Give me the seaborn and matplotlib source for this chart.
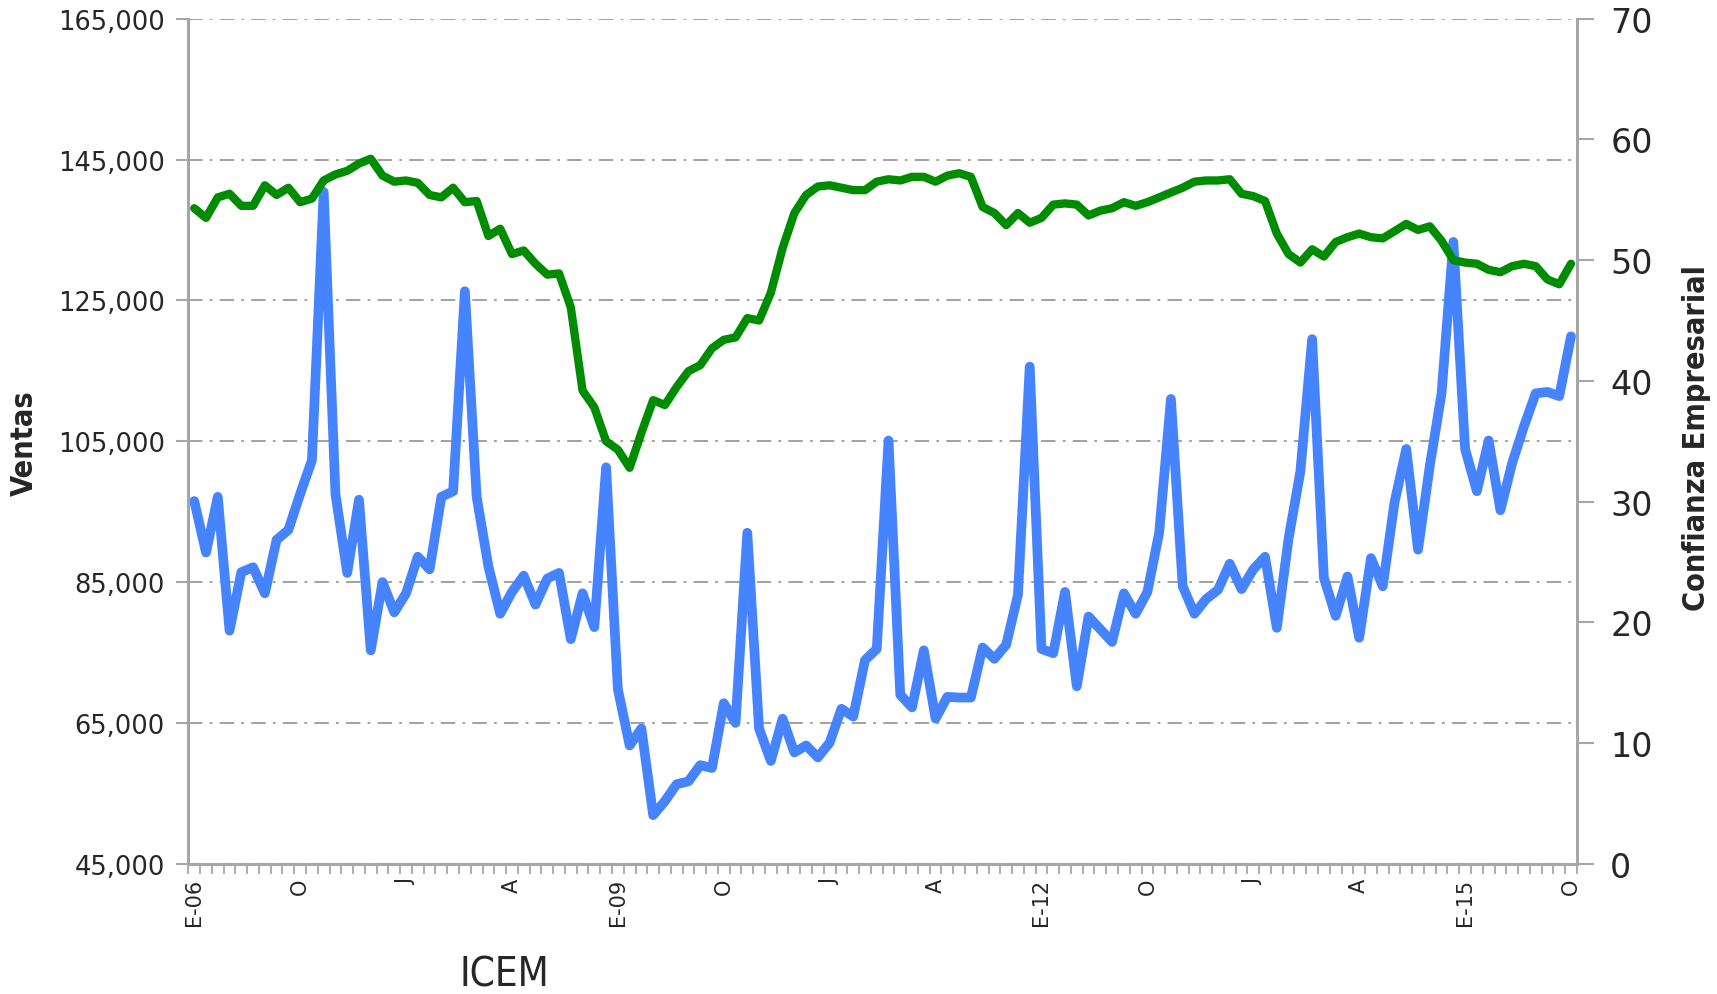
import numpy as np
import pandas as pd
import matplotlib
matplotlib.use("Agg")
import matplotlib.pyplot as plt
import seaborn as sns

# ==========================================
# DATOS (mensual, enero 2006 - octubre 2015)
# ==========================================
ventas = [
    96500, 89200, 97100, 78100, 86400, 87100, 83400, 91000, 92400, 97500,
    102300, 140400, 97500, 86300, 96700, 75300, 85000, 80700, 83400, 88600,
    86800, 97100, 97900, 126300, 97100, 87200, 80500, 83600, 85900, 81800,
    85500, 86300, 76900, 83400, 78600, 101300, 69800, 61800, 64200, 51900,
    53900, 56300, 56700, 59000, 58600, 67800, 65000, 92000, 64200, 59600,
    65600, 60800, 61800, 60100, 62200, 67000, 65900, 73900, 75500, 105100,
    69000, 67200, 75300, 65600, 68700, 68600, 68600, 75700, 74100, 76100,
    83200, 115600, 75500, 74900, 83600, 70200, 80100, 78300, 76500, 83400,
    80500, 83600, 92000, 111000, 84400, 80500, 82600, 83900, 87600, 84000,
    86800, 88600, 78500, 91200, 100700, 119500, 85600, 80200, 85800, 77100,
    88400, 84400, 96300, 103900, 89600, 101500, 111800, 133300, 103900, 97900,
    105100, 95200, 101900, 107100, 111800, 112000, 111400, 119900,
]

confianza = [
    54.3, 53.5, 55.2, 55.5, 54.5, 54.5, 56.2, 55.4, 56.0, 54.8,
    55.1, 56.6, 57.1, 57.4, 58.0, 58.4, 57.0, 56.5, 56.6, 56.4,
    55.4, 55.2, 56.0, 54.8, 54.9, 52.0, 52.6, 50.5, 50.8, 49.7,
    48.8, 48.9, 46.1, 39.2, 37.8, 35.0, 34.3, 32.8, 35.7, 38.4,
    38.0, 39.5, 40.8, 41.3, 42.7, 43.4, 43.6, 45.2, 45.0, 47.3,
    51.0, 53.9, 55.4, 56.1, 56.2, 56.0, 55.8, 55.8, 56.5, 56.7,
    56.6, 56.9, 56.9, 56.5, 57.0, 57.2, 56.9, 54.4, 53.9, 52.9,
    53.9, 53.1, 53.5, 54.6, 54.7, 54.6, 53.7, 54.1, 54.3, 54.8,
    54.5, 54.8, 55.2, 55.6, 56.0, 56.5, 56.6, 56.6, 56.7, 55.5,
    55.3, 54.9, 52.2, 50.5, 49.8, 50.9, 50.3, 51.5, 51.9, 52.2,
    51.9, 51.8, 52.4, 53.0, 52.5, 52.8, 51.6, 50.0, 49.8, 49.7,
    49.2, 49.0, 49.5, 49.7, 49.5, 48.4, 48.0, 49.7,
]

etiquetas_x = ["E-06", "O", "J", "A", "E-09", "O", "J", "A",
               "E-12", "O", "J", "A", "E-15", "O"]
ticks_izq = [45000, 65000, 85000, 105000, 125000, 145000, 165000]
ticks_der = [0, 10, 20, 30, 40, 50, 60, 70]

df = pd.DataFrame({
    "mes": np.arange(len(ventas)),
    "ventas": ventas,
    "confianza": confianza,
})

# ==========================================
# ESTILO
# ==========================================
sns.set_style("white")
plt.rcParams["font.family"] = ["DejaVu Sans"]
gris = "#a6a6a6"
azul = "#4683ff"
verde = "#008c00"

fig = plt.figure(figsize=(17.17, 9.95), dpi=100)
ax = fig.add_axes([0.1097, 0.1309, 0.8087, 0.8493])
ax2 = ax.twinx()

sns.lineplot(data=df, x="mes", y="ventas", ax=ax, color=azul, linewidth=7,
             solid_joinstyle="round", solid_capstyle="round", zorder=3)
sns.lineplot(data=df, x="mes", y="confianza", ax=ax2, color=verde, linewidth=6,
             solid_joinstyle="round", solid_capstyle="round")

n = len(ventas)
ax.set_xlim(-0.5, n - 0.5)
ax.set_ylim(45000, 165000)
ax2.set_ylim(0, 70)

# eje izquierdo
ax.set_yticks(ticks_izq)
ax.set_yticklabels([f"{v:,}" for v in ticks_izq], fontsize=18.5)
ax.yaxis.grid(True, color="#9a9a9a", linestyle=(0, (8, 4, 1.5, 4)), linewidth=1.3)
ax.tick_params(axis="y", which="major", direction="out", length=9, width=1.5,
               color=gris, left=True, pad=8)

# eje derecho
ax2.set_yticks(ticks_der)
ax2.set_yticklabels([str(v) for v in ticks_der], fontsize=24)
ax2.tick_params(axis="y", direction="out", length=12, width=1.5, color=gris,
                right=True, pad=12)
ax2.grid(False)

# eje x: etiquetas cada 9 meses, marcas menores cada mes
ax.set_xticks(np.arange(0, n, 9))
ax.set_xticklabels(etiquetas_x, rotation=90, fontsize=15)
ax.set_xticks(np.arange(-0.5, n, 1), minor=True)
ax.tick_params(axis="x", which="major", length=0, pad=10)
ax.tick_params(axis="x", which="minor", direction="out", length=7, width=1.3,
               color=gris, bottom=True)
ax.xaxis.grid(False)

for a in (ax, ax2):
    a.spines["top"].set_visible(False)
    for s in ("left", "right", "bottom"):
        a.spines[s].set_color(gris)
        a.spines[s].set_linewidth(2)
ax.set_xlabel("")
ax.set_ylabel("")
ax2.set_ylabel("")

# títulos de los ejes
fig.text(0.014, 0.555, "Ventas", rotation=90, ha="center", va="center",
         fontsize=22, fontweight="bold", fontstretch="condensed")
fig.text(0.988, 0.56, "Confianza Empresarial", rotation=90, ha="center",
         va="center", fontsize=22, fontweight="bold", fontstretch="condensed")
fig.text(0.294, 0.02, "ICEM", ha="center", va="center", fontsize=29,
         fontstretch="condensed")

fig.savefig("out.png", dpi=100)
